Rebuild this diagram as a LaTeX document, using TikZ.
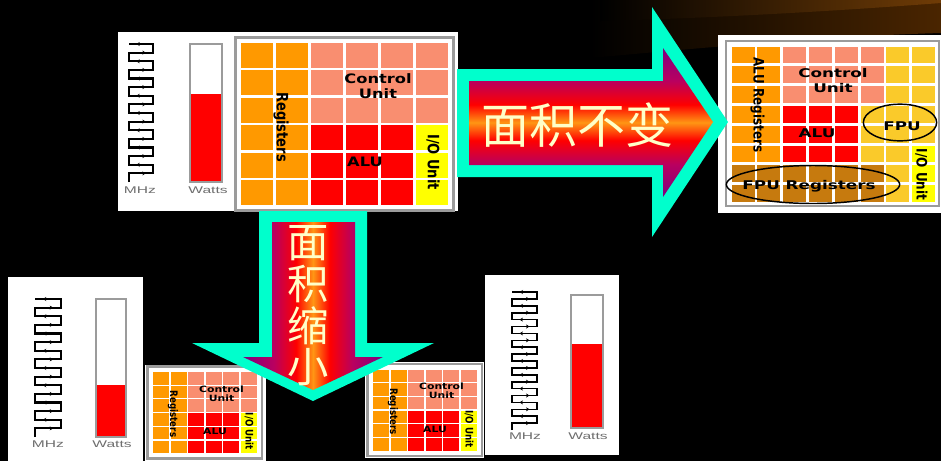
\documentclass[tikz,border=0pt]{standalone}
\usepackage{fontspec}
\usepackage{graphicx}
\usepackage{tikz}
\usetikzlibrary{shapes.geometric,arrows.meta}
\newfontfamily\cjk{Noto Sans CJK SC}
\newfontfamily\chipfont{DejaVu Sans}
\newfontfamily\meterfont{Liberation Sans}

\definecolor{arrowcyan}{RGB}{0,255,204}
\definecolor{firepurple}{RGB}{128,0,128}
\definecolor{firemagenta}{RGB}{185,0,95}
\definecolor{firered}{RGB}{255,0,0}
\definecolor{fireorange}{RGB}{255,150,20}
\definecolor{textcream}{RGB}{255,255,200}
\definecolor{regorange}{RGB}{255,153,0}
\definecolor{ctlsalmon}{RGB}{249,142,112}
\definecolor{alured}{RGB}{255,0,0}
\definecolor{ioyellow}{RGB}{255,255,0}
\definecolor{fpugold}{RGB}{250,202,42}
\definecolor{fpubrown}{RGB}{198,122,14}
\definecolor{framegray}{RGB}{155,155,155}
\definecolor{labelgray}{RGB}{110,110,110}
\definecolor{swoosh}{RGB}{112,60,6}
\definecolor{swooshdark}{RGB}{74,37,0}

\pgfdeclareverticalshading{fireacross}{100bp}{color(0bp)=(firepurple); color(25bp)=(firepurple); color(36bp)=(firemagenta); color(44bp)=(firered); color(50bp)=(fireorange); color(56bp)=(firered); color(64bp)=(firemagenta); color(75bp)=(firepurple); color(100bp)=(firepurple)}
\pgfdeclarehorizontalshading{firealong}{100bp}{color(0bp)=(firepurple); color(25bp)=(firepurple); color(36bp)=(firemagenta); color(44bp)=(firered); color(50bp)=(fireorange); color(56bp)=(firered); color(64bp)=(firemagenta); color(75bp)=(firepurple); color(100bp)=(firepurple)}

\newcommand\widetxt[2][1.25]{\scalebox{#1}[1]{#2}}
\newcommand\fattxt[2][1.2]{\scalebox{1}[#1]{#2}}

% square clock wave: [width] left, right, top, bottom, rungs
\newcommand\clockwave[6][1.5pt]{%
  \pgfmathsetmacro\rungstep{(#5-#4)/#6}
  \draw[wire, line width=#1] (#2,#5) foreach \k in {1,...,#6}{
      -- ({#2+(#3-#2)*mod(\k-1,2)},{#5-\k*\rungstep})
      -- ({#2+(#3-#2)*mod(\k,2)},{#5-\k*\rungstep})};
  \foreach \k in {1,...,#6}
    \draw[pulse] ({#2+(#3-#2)*mod(\k-1,2)},{#5-\k*\rungstep})
      -- ({#2+(#3-#2)*(0.3+0.4*mod(\k,2))},{#5-\k*\rungstep});
}
% power tube: left, right, top, level, bottom
\newcommand\thermo[5]{%
  \fill[white] (#1,#3) rectangle (#2,#5);
  \fill[heat] (#1,#4) rectangle (#2,#5);
  \draw[tube] (#1,#3) rectangle (#2,#5);
}

\tikzset{
  chip gap/.store in=\chipgap, chip gap=5.5,
  panel/.style={fill=white},
  chipframe/.style={draw=framegray, line width=1.6pt, fill=white},
  chiplabel/.style={font=\chipfont\bfseries\fontsize{9.75}{11.25}\selectfont, align=center, inner sep=0pt},
  ring/.style={ellipse, draw=black, line width=1.1pt, inner sep=0pt},
  wire/.style={line join=miter},
  pulse/.style={-{Stealth[length=2.6pt,width=3pt]}, line width=0.6pt},
  tube/.style={draw=framegray, line width=1.3pt},
  heat/.style={fill=alured},
  meterlabel/.style={font=\meterfont\fontsize{7.3}{8}\selectfont, text=labelgray, inner sep=0pt},
  arrowrim/.style={fill=arrowcyan},
  firetext/.style={text=textcream, inner sep=0pt, align=center},
  pics/cpu/.style={code={
    \draw[chipframe] (-\chipgap,-\chipgap) rectangle (207+\chipgap,162+\chipgap);
    \foreach \cx in {1,...,6}{
      \foreach \ry in {1,...,6}{
        \ifnum\cx<3 \def\cc{regorange}\else
          \ifnum\ry<4 \def\cc{ctlsalmon}\else
            \ifnum\cx=6 \def\cc{ioyellow}\else \def\cc{alured}\fi
          \fi
        \fi
        \fill[\cc] ({(\cx-1)*35},{(\ry-1)*27.4}) rectangle ++(32,25);
      }
    }
    \node[chiplabel, rotate=-90] (-regs) at (40,84) {\fattxt{Registers}};
    \node[chiplabel] (-ctrl) at (137,43) {\widetxt{Control}\\\widetxt{Unit}};
    \node[chiplabel] (-alu) at (124,119) {\widetxt{ALU}};
    \node[chiplabel, rotate=-90] (-io) at (192,119) {\fattxt{I/O Unit}};
  }},
}

\begin{document}
\begin{tikzpicture}[x=0.75pt, y=-0.75pt]
  \useasboundingbox (0,0) rectangle (941,461);
  \fill[black] (0,0) rectangle (941,461);

  % brown sweep in the corner
  \shade[left color=black, right color=swooshdark] (590,0) -- (941,0) -- (941,33)
    .. controls (830,36) and (700,48) .. (590,58) -- cycle;
  \shade[left color=black, right color=swoosh] (600,0) -- (941,0) -- (941,3)
    .. controls (850,10) and (720,18) .. (600,21) -- cycle;

  % white backgrounds
  \fill[panel] (118,32) rectangle (458,211);
  \fill[panel] (718,35) rectangle (941,213);
  \fill[panel] (8,277) rectangle (143,461);
  \fill[panel] (144.5,364.5) rectangle (265.5,461);
  \fill[panel] (365,362) rectangle (484,458);
  \fill[panel] (485,275) rectangle (619,455);

  % meters
  \clockwave[1.6pt]{129}{153}{44}{182}{16}
  \thermo{190}{222}{44}{94}{182}
  \node[meterlabel] (mhzA) at (140,190) {\widetxt[1.6]{MHz}};
  \node[meterlabel] (wattsA) at (208,190) {\widetxt[1.6]{Watts}};

  \clockwave[1.6pt]{35}{61}{299}{437}{16}
  \thermo{96}{126}{299}{385}{437}
  \node[meterlabel] (mhzB) at (48,444) {\widetxt[1.6]{MHz}};
  \node[meterlabel] (wattsB) at (112,444) {\widetxt[1.6]{Watts}};

  \clockwave[1.2pt]{512}{537}{292}{430}{20}
  \thermo{571}{603}{295}{344}{428}
  \node[meterlabel] (mhzC) at (525,436) {\widetxt[1.6]{MHz}};
  \node[meterlabel] (wattsC) at (588,436) {\widetxt[1.6]{Watts}};

  % processors
  \pic (cpu) at (241,43) {cpu};
  \pic[scale=0.5, chip gap=11,
    chiplabel/.append style={font=\chipfont\bfseries\fontsize{6.5}{6.75}\selectfont}]
    (cpuA) at (153,372) {cpu};
  \pic[scale=0.5, chip gap=11,
    chiplabel/.append style={font=\chipfont\bfseries\fontsize{6.5}{6.75}\selectfont}]
    (cpuB) at (373,369.5) {cpu};

  % processor with floating point unit
  \draw[chipframe] (726,41) rectangle (939,206);
  \foreach \cx in {1,...,8}{
    \foreach \ry in {1,...,8}{
      \def\cc{fpugold}
      \ifnum\cx<3 \def\cc{regorange}\fi
      \ifnum\cx>2 \ifnum\cx<7 \ifnum\ry<4 \def\cc{ctlsalmon}\fi\fi\fi
      \ifnum\cx>2 \ifnum\cx<6 \ifnum\ry>3 \ifnum\ry<7 \def\cc{alured}\fi\fi\fi\fi
      \ifnum\ry>6 \ifnum\cx<7 \def\cc{fpubrown}\fi\fi
      \ifnum\cx=8 \ifnum\ry>5 \def\cc{ioyellow}\fi\fi
      \fill[\cc] ({731.5+(\cx-1)*25.8},{46.5+(\ry-1)*19.8}) rectangle ++(23,16.8);
    }
  }
  \node[chiplabel, font=\chipfont\bfseries\fontsize{9}{11.25}\selectfont, rotate=-90] (aluregs) at (757.5,105) {\fattxt{ALU Registers}};
  \node[chiplabel, font=\chipfont\bfseries\fontsize{9}{11.25}\selectfont] (ctrlF) at (833,81) {\widetxt[1.4]{Control}\\\widetxt[1.4]{Unit}};
  \node[chiplabel, font=\chipfont\bfseries\fontsize{9}{11.25}\selectfont] (aluF) at (817,133) {\widetxt[1.4]{ALU}};
  \node[chiplabel, font=\chipfont\bfseries\fontsize{9}{11.25}\selectfont] (fpu) at (902,126) {\widetxt[1.4]{FPU}};
  \node[ring, minimum width=55pt, minimum height=27.5pt] (fpuring) at (900,122.5) {};
  \node[chiplabel, font=\chipfont\bfseries\fontsize{9}{11.25}\selectfont] (fpuregs) at (809,186.5) {\widetxt[1.4]{FPU Registers}};
  \node[ring, minimum width=130pt, minimum height=28.5pt] (fpuregring) at (813,184.5) {};
  \node[chiplabel, font=\chipfont\bfseries\fontsize{9}{11.25}\selectfont, rotate=-90] (ioF) at (921.5,174.5) {\fattxt{I/O Unit}};

  % same area
  \fill[arrowrim] (457,69) -- (652,69) -- (652,7) -- (728,122) -- (652,237) -- (652,177) -- (457,177) -- cycle;
  \shade[shading=fireacross] (469,81) -- (663,81) -- (663,48) -- (713,122) -- (663,197) -- (663,165) -- (469,165) -- cycle;
  \node[firetext, font=\cjk\fontsize{36}{40}\selectfont] (keep) at (577,125) {面积不变};

  % smaller area
  \fill[arrowrim] (259,211) -- (367,211) -- (367,343) -- (434,343) -- (313,401) -- (192,343) -- (259,343) -- cycle;
  \shade[shading=firealong] (272,222) -- (355,222) -- (355,357) -- (383,357) -- (313,390) -- (243,357) -- (272,357) -- cycle;
  \node[firetext, font=\cjk\fontsize{31}{31.3}\selectfont] (shrink) at (308,306) {面\\积\\缩\\小};
\end{tikzpicture}
\end{document}
